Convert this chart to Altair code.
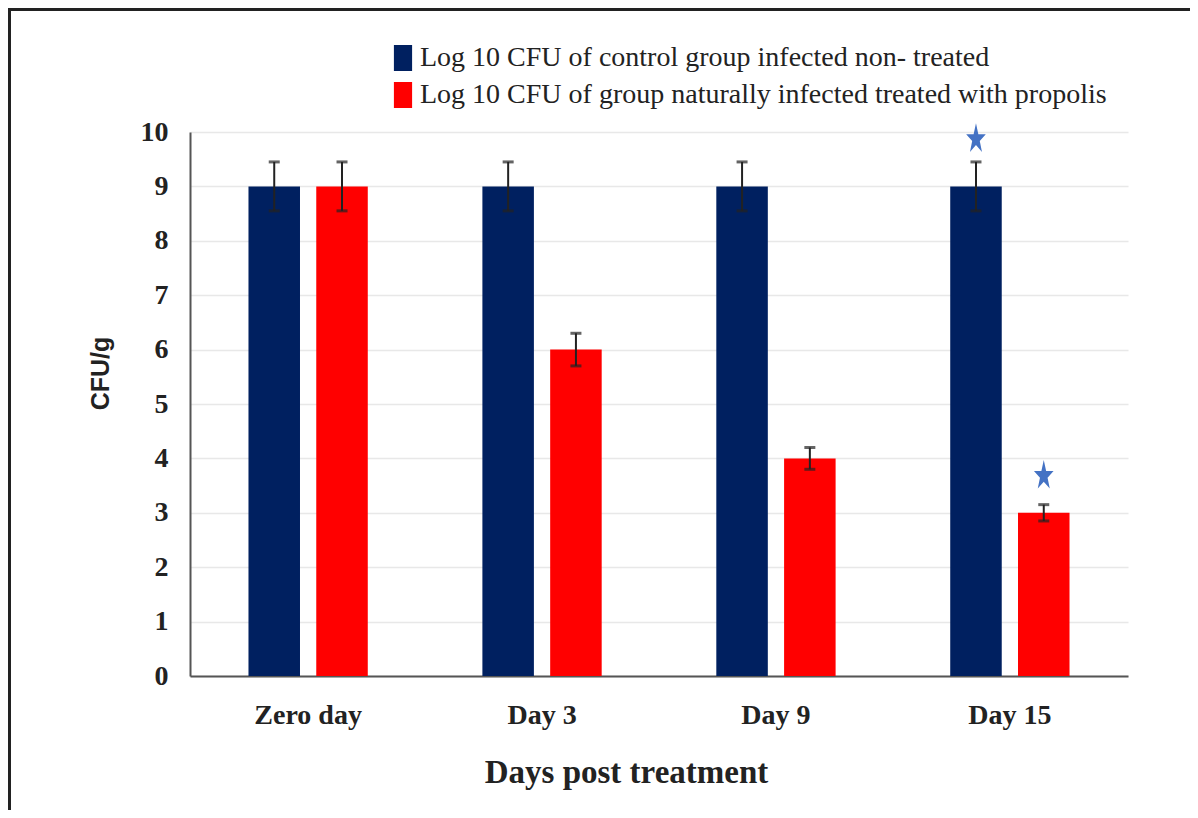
import altair as alt
import pandas as pd

days = ["Zero day", "Day 3", "Day 9", "Day 15"]
groups = [
    "Log 10 CFU of control group infected non- treated",
    "Log 10 CFU of group naturally infected treated with propolis",
]
control = [9, 9, 9, 9]
treated = [9, 6, 4, 3]
control_err = [0.45, 0.45, 0.45, 0.45]
treated_err = [0.45, 0.3, 0.2, 0.15]
star_day = ["Day 15", "Day 15"]
star_y = [9.87, 3.68]
colors = ["#002060", "#ff0000"]
y_ticks = list(range(0, 11))

rows = []
for g, vals, errs in [(groups[0], control, control_err), (groups[1], treated, treated_err)]:
    for d, v, e in zip(days, vals, errs):
        rows.append({"day": d, "group": g, "value": v, "lo": v - e, "hi": v + e})
df = pd.DataFrame(rows)
stars = pd.DataFrame({"day": star_day, "group": groups, "y": star_y})
one = pd.DataFrame({"a": [0]})

SERIF = "Liberation Serif"
TXT = "#222222"

x_axis = alt.Axis(
    title="Days post treatment", titleFont=SERIF, titleFontSize=33, titleFontWeight="bold",
    titleColor=TXT, titleX=436, titleY=106, titleBaseline="alphabetic", titleAlign="center",
    labelFont=SERIF, labelFontSize=28, labelFontWeight="bold", labelColor=TXT, labelAngle=0,
    labelPadding=25, ticks=False, domainColor="#555555", domainWidth=2, grid=False,
)
y_axis = alt.Axis(
    title="CFU/g", titleFont="Liberation Sans", titleFontSize=25, titleFontWeight="bold",
    titleColor=TXT, titleAngle=270, titleX=-90, titleY=241, titleAlign="center",
    titleBaseline="middle", values=y_ticks, labelFont=SERIF, labelFontSize=28,
    labelFontWeight="bold", labelColor=TXT, labelPadding=22, ticks=False, grid=True,
    gridColor="#e8e8e8", gridWidth=1.5, domainColor="#555555", domainWidth=2,
)
x_scale = alt.Scale(domain=days, paddingInner=0.49, paddingOuter=0.25)
xo_scale = alt.Scale(domain=groups, paddingInner=0.24, paddingOuter=0)
y_scale = alt.Scale(domain=[0, 10], nice=False)

X = alt.X("day:N", sort=days, scale=x_scale, axis=x_axis)
XO = alt.XOffset("group:N", sort=groups, scale=xo_scale)

bars = alt.Chart(df).mark_bar().encode(
    x=X, xOffset=XO,
    y=alt.Y("value:Q", scale=y_scale, axis=y_axis),
    color=alt.Color(
        "group:N", sort=groups, scale=alt.Scale(domain=groups, range=colors),
        legend=alt.Legend(
            orient="none", legendX=199, legendY=-88, title=None, padding=0,
            symbolType="M-0.7,-1H0.7V1H-0.7Z", symbolSize=676, symbolStrokeWidth=0,
            symbolOpacity=1, labelFont=SERIF, labelFontSize=28, labelColor=TXT,
            labelLimit=0, labelOffset=3, rowPadding=9,
        ),
    ),
)

err = alt.Chart(df).mark_rule(color=TXT, strokeWidth=2).encode(
    x=X, xOffset=XO, y=alt.Y("lo:Q", scale=y_scale, axis=y_axis), y2="hi:Q"
)
cap_hi = alt.Chart(df).mark_tick(color=TXT, thickness=3, size=11, orient="horizontal").encode(
    x=X, xOffset=XO, y=alt.Y("hi:Q", scale=y_scale, axis=y_axis)
)
cap_lo = alt.Chart(df).mark_tick(color=TXT, thickness=3, size=11, orient="horizontal").encode(
    x=X, xOffset=XO, y=alt.Y("lo:Q", scale=y_scale, axis=y_axis)
)

star_path = ("M0,-1L0.15,-0.31L0.62,-0.31L0.24,0.12L0.38,0.81L0,0.38L-0.38,0.81"
             "L-0.24,0.12L-0.62,-0.31L-0.15,-0.31Z")
star_marks = alt.Chart(stars).mark_point(
    shape=star_path, size=1000, filled=True, color="#4472c4", opacity=1, strokeWidth=0
).encode(x=X, xOffset=XO, y=alt.Y("y:Q", scale=y_scale, axis=y_axis))

frame_left = alt.Chart(one).mark_rule(color=TXT, strokeWidth=3).encode(
    x=alt.value(-180.5), y=alt.value(-124), y2=alt.value(700)
)
frame_top = alt.Chart(one).mark_rule(color=TXT, strokeWidth=3).encode(
    x=alt.value(-182), x2=alt.value(1010), y=alt.value(-122.5)
)

chart = alt.layer(bars, err, cap_hi, cap_lo, star_marks, frame_left, frame_top).properties(
    width=938, height=544,
    autosize=alt.AutoSizeParams(type="none"),
    padding={"left": 182, "top": 124, "right": 62, "bottom": 134},
    background="white",
).configure_view(strokeWidth=0)

chart.save("out.html", embed_options={"renderer": "svg", "actions": False})
